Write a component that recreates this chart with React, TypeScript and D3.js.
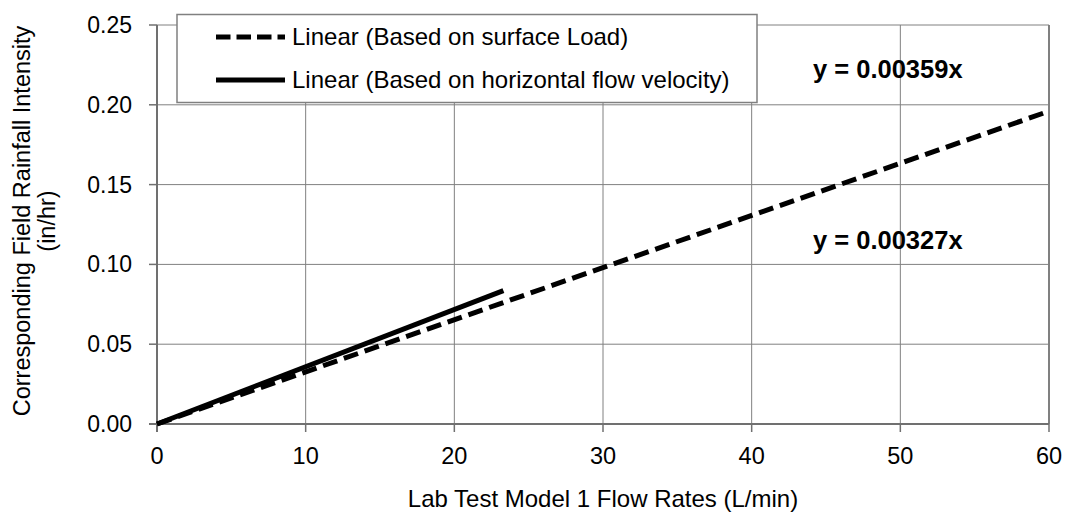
import React from "react";
import * as d3 from "d3";

const xTicks = [0, 10, 20, 30, 40, 50, 60];
const yTicks = [0, 0.05, 0.1, 0.15, 0.2, 0.25];

// trendline end points
const surfaceLoadX = [0, 60];
const surfaceLoadY = [0, 0.196];
const velocityX = [0, 23.3];
const velocityY = [0, 0.0836];

const legendLabels = [
  "Linear (Based on surface Load)",
  "Linear (Based on horizontal flow velocity)",
];
const equations = ["y = 0.00359x", "y = 0.00327x"];

export default function App() {
  const width = 1065;
  const height = 519;
  const margin = { top: 25, left: 157, bottom: 95, right: 16 };
  const iwidth = width - margin.left - margin.right;
  const iheight = height - margin.top - margin.bottom;

  const x = d3.scaleLinear().domain([0, 60]).range([0, iwidth]);
  const y = d3.scaleLinear().domain([0, 0.25]).range([iheight, 0]);

  const line = d3
    .line<[number, number]>()
    .x((d) => x(d[0]))
    .y((d) => y(d[1]));

  const dashed = surfaceLoadX.map((v, i) => [v, surfaceLoadY[i]] as [number, number]);
  const solid = velocityX.map((v, i) => [v, velocityY[i]] as [number, number]);

  const font = "'Liberation Sans', Arial, sans-serif";

  return (
    <svg
      width={width}
      height={height}
      style={{ position: "absolute", left: 0, top: 0, background: "#fff" }}
      fontFamily={font}
    >
      <g transform={`translate(${margin.left},${margin.top})`}>
        {/* grid */}
        {xTicks.map((t) => (
          <line key={"gx" + t} x1={x(t)} x2={x(t)} y1={0} y2={iheight} stroke="#808080" strokeWidth={1} />
        ))}
        {yTicks.map((t) => (
          <line key={"gy" + t} x1={0} x2={iwidth} y1={y(t)} y2={y(t)} stroke="#808080" strokeWidth={1} />
        ))}
        {/* frame */}
        <line x1={iwidth} x2={iwidth} y1={0} y2={iheight} stroke="#808080" strokeWidth={2} />
        <line x1={0} x2={0} y1={0} y2={iheight + 8} stroke="#707070" strokeWidth={2} />
        <line x1={-8} x2={iwidth} y1={iheight} y2={iheight} stroke="#707070" strokeWidth={2} />
        {/* ticks */}
        {yTicks.map((t) => (
          <g key={"ty" + t}>
            <line x1={-8} x2={0} y1={y(t)} y2={y(t)} stroke="#707070" strokeWidth={1.5} />
            <text x={-25} y={y(t)} dy="0.35em" textAnchor="end" fontSize={23} fill="#000">
              {t.toFixed(2)}
            </text>
          </g>
        ))}
        {xTicks.map((t) => (
          <g key={"tx" + t}>
            <line x1={x(t)} x2={x(t)} y1={iheight} y2={iheight + 8} stroke="#707070" strokeWidth={1.5} />
            <text x={x(t)} y={iheight + 40} textAnchor="middle" fontSize={23.5} fill="#000">
              {t}
            </text>
          </g>
        ))}
        {/* trendlines */}
        <path d={line(dashed) ?? ""} fill="none" stroke="#000" strokeWidth={5} strokeDasharray="15 7" />
        <path d={line(solid) ?? ""} fill="none" stroke="#000" strokeWidth={5} />
        {/* equations */}
        <text x={656} y={53} fontSize={25.5} fontWeight="bold" fill="#000">
          {equations[0]}
        </text>
        <text x={656} y={224} fontSize={25.5} fontWeight="bold" fill="#000">
          {equations[1]}
        </text>
      </g>

      {/* legend */}
      <g>
        <rect x={177} y={14.5} width={580} height={88} fill="#fff" stroke="#808080" strokeWidth={1.5} />
        <line x1={216} x2={285} y1={37} y2={37} stroke="#000" strokeWidth={5} strokeDasharray="14.5 6" />
        <line x1={216} x2={285} y1={80} y2={80} stroke="#000" strokeWidth={5} />
        <text x={292} y={37} dy="0.35em" fontSize={24} fill="#000">
          {legendLabels[0]}
        </text>
        <text x={292} y={80} dy="0.35em" fontSize={24} fill="#000">
          {legendLabels[1]}
        </text>
      </g>

      {/* axis titles */}
      <text x={603} y={507} textAnchor="middle" fontSize={24} fill="#000">
        Lab Test Model 1 Flow Rates (L/min)
      </text>
      <text transform="translate(30,221) rotate(-90)" textAnchor="middle" fontSize={23.5} fill="#000">
        Corresponding Field Rainfall Intensity
      </text>
      <text transform="translate(55,221) rotate(-90)" textAnchor="middle" fontSize={23.5} fill="#000">
        (in/hr)
      </text>
    </svg>
  );
}
